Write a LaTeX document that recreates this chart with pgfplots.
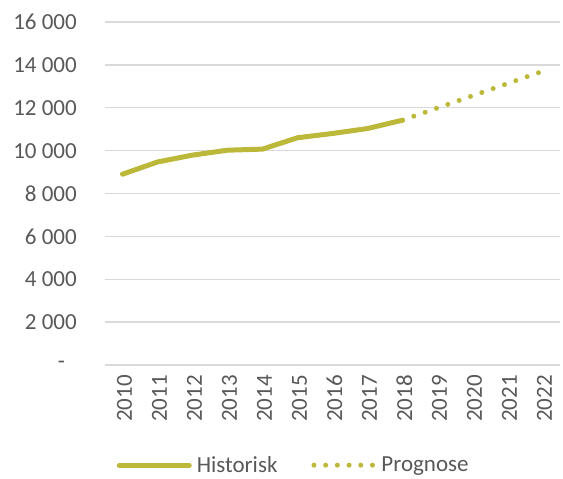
\documentclass[border=0pt]{standalone}
\usepackage{pgfplots}
\pgfplotsset{compat=1.18}
\usepackage{fontspec}
\setmainfont{Carlito}
\definecolor{olive}{RGB}{187,184,58}
\definecolor{gridgrey}{RGB}{217,217,217}
\definecolor{txtgrey}{RGB}{89,89,89}
\begin{document}
\begin{tikzpicture}
\begin{axis}[
  scale only axis,
  width=455pt, height=343pt,
  xmin=2009.5, xmax=2022.5,
  ymin=0, ymax=16000,
  scaled y ticks=false,
  axis line style={draw=none},
  xtick={2010,...,2022},
  xticklabels={2010,2011,2012,2013,2014,2015,2016,2017,2018,2019,2020,2021,2022},
  ytick={0,2000,...,16000},
  yticklabels={-\hspace*{12pt},2 000,4 000,6 000,8 000,10 000,12 000,14 000,16 000},
  major tick length=0pt,
  ymajorgrids, grid style={gridgrey, line width=1.3pt},
  tick label style={font=\fontsize{23}{27}\selectfont, text=txtgrey, inner sep=0pt},
  yticklabel style={xshift=-28pt},
  xticklabel style={yshift=-10pt, xshift=2pt, rotate=90, anchor=east},
  legend style={at={(0.418,-0.292)}, anchor=center, draw=none, legend columns=2,
    font=\fontsize{23}{27}\selectfont, text=txtgrey, inner sep=0pt,
    nodes={inner xsep=5pt, inner ysep=0pt},
    /tikz/every even column/.append style={column sep=29pt}},
  clip=false,
]
\addplot[olive, line width=5pt, line cap=round, line join=round,
  legend image code/.code={\draw[olive, line width=5pt, line cap=round] (0pt,0pt) -- (70pt,0pt);}]
  coordinates {(2010,8900) (2011,9470) (2012,9790) (2013,10020) (2014,10070) (2015,10600) (2016,10800) (2017,11030) (2018,11420)};
\addlegendentry{Historisk}
\addplot[olive, line width=5pt, line cap=round, dash pattern=on 0pt off 12pt,
  legend image code/.code={\draw[olive, line width=5pt, line cap=round, dash pattern=on 0pt off 11.7pt] (0pt,0pt) -- (60pt,0pt);}]
  coordinates {(2018,11420) (2019,11990) (2020,12560) (2021,13130) (2022,13700)};
\addlegendentry{Prognose}
\end{axis}
\pgfresetboundingbox
\path[use as bounding box] (-105pt,-114pt) rectangle (458pt,365pt);
\end{tikzpicture}
\end{document}
